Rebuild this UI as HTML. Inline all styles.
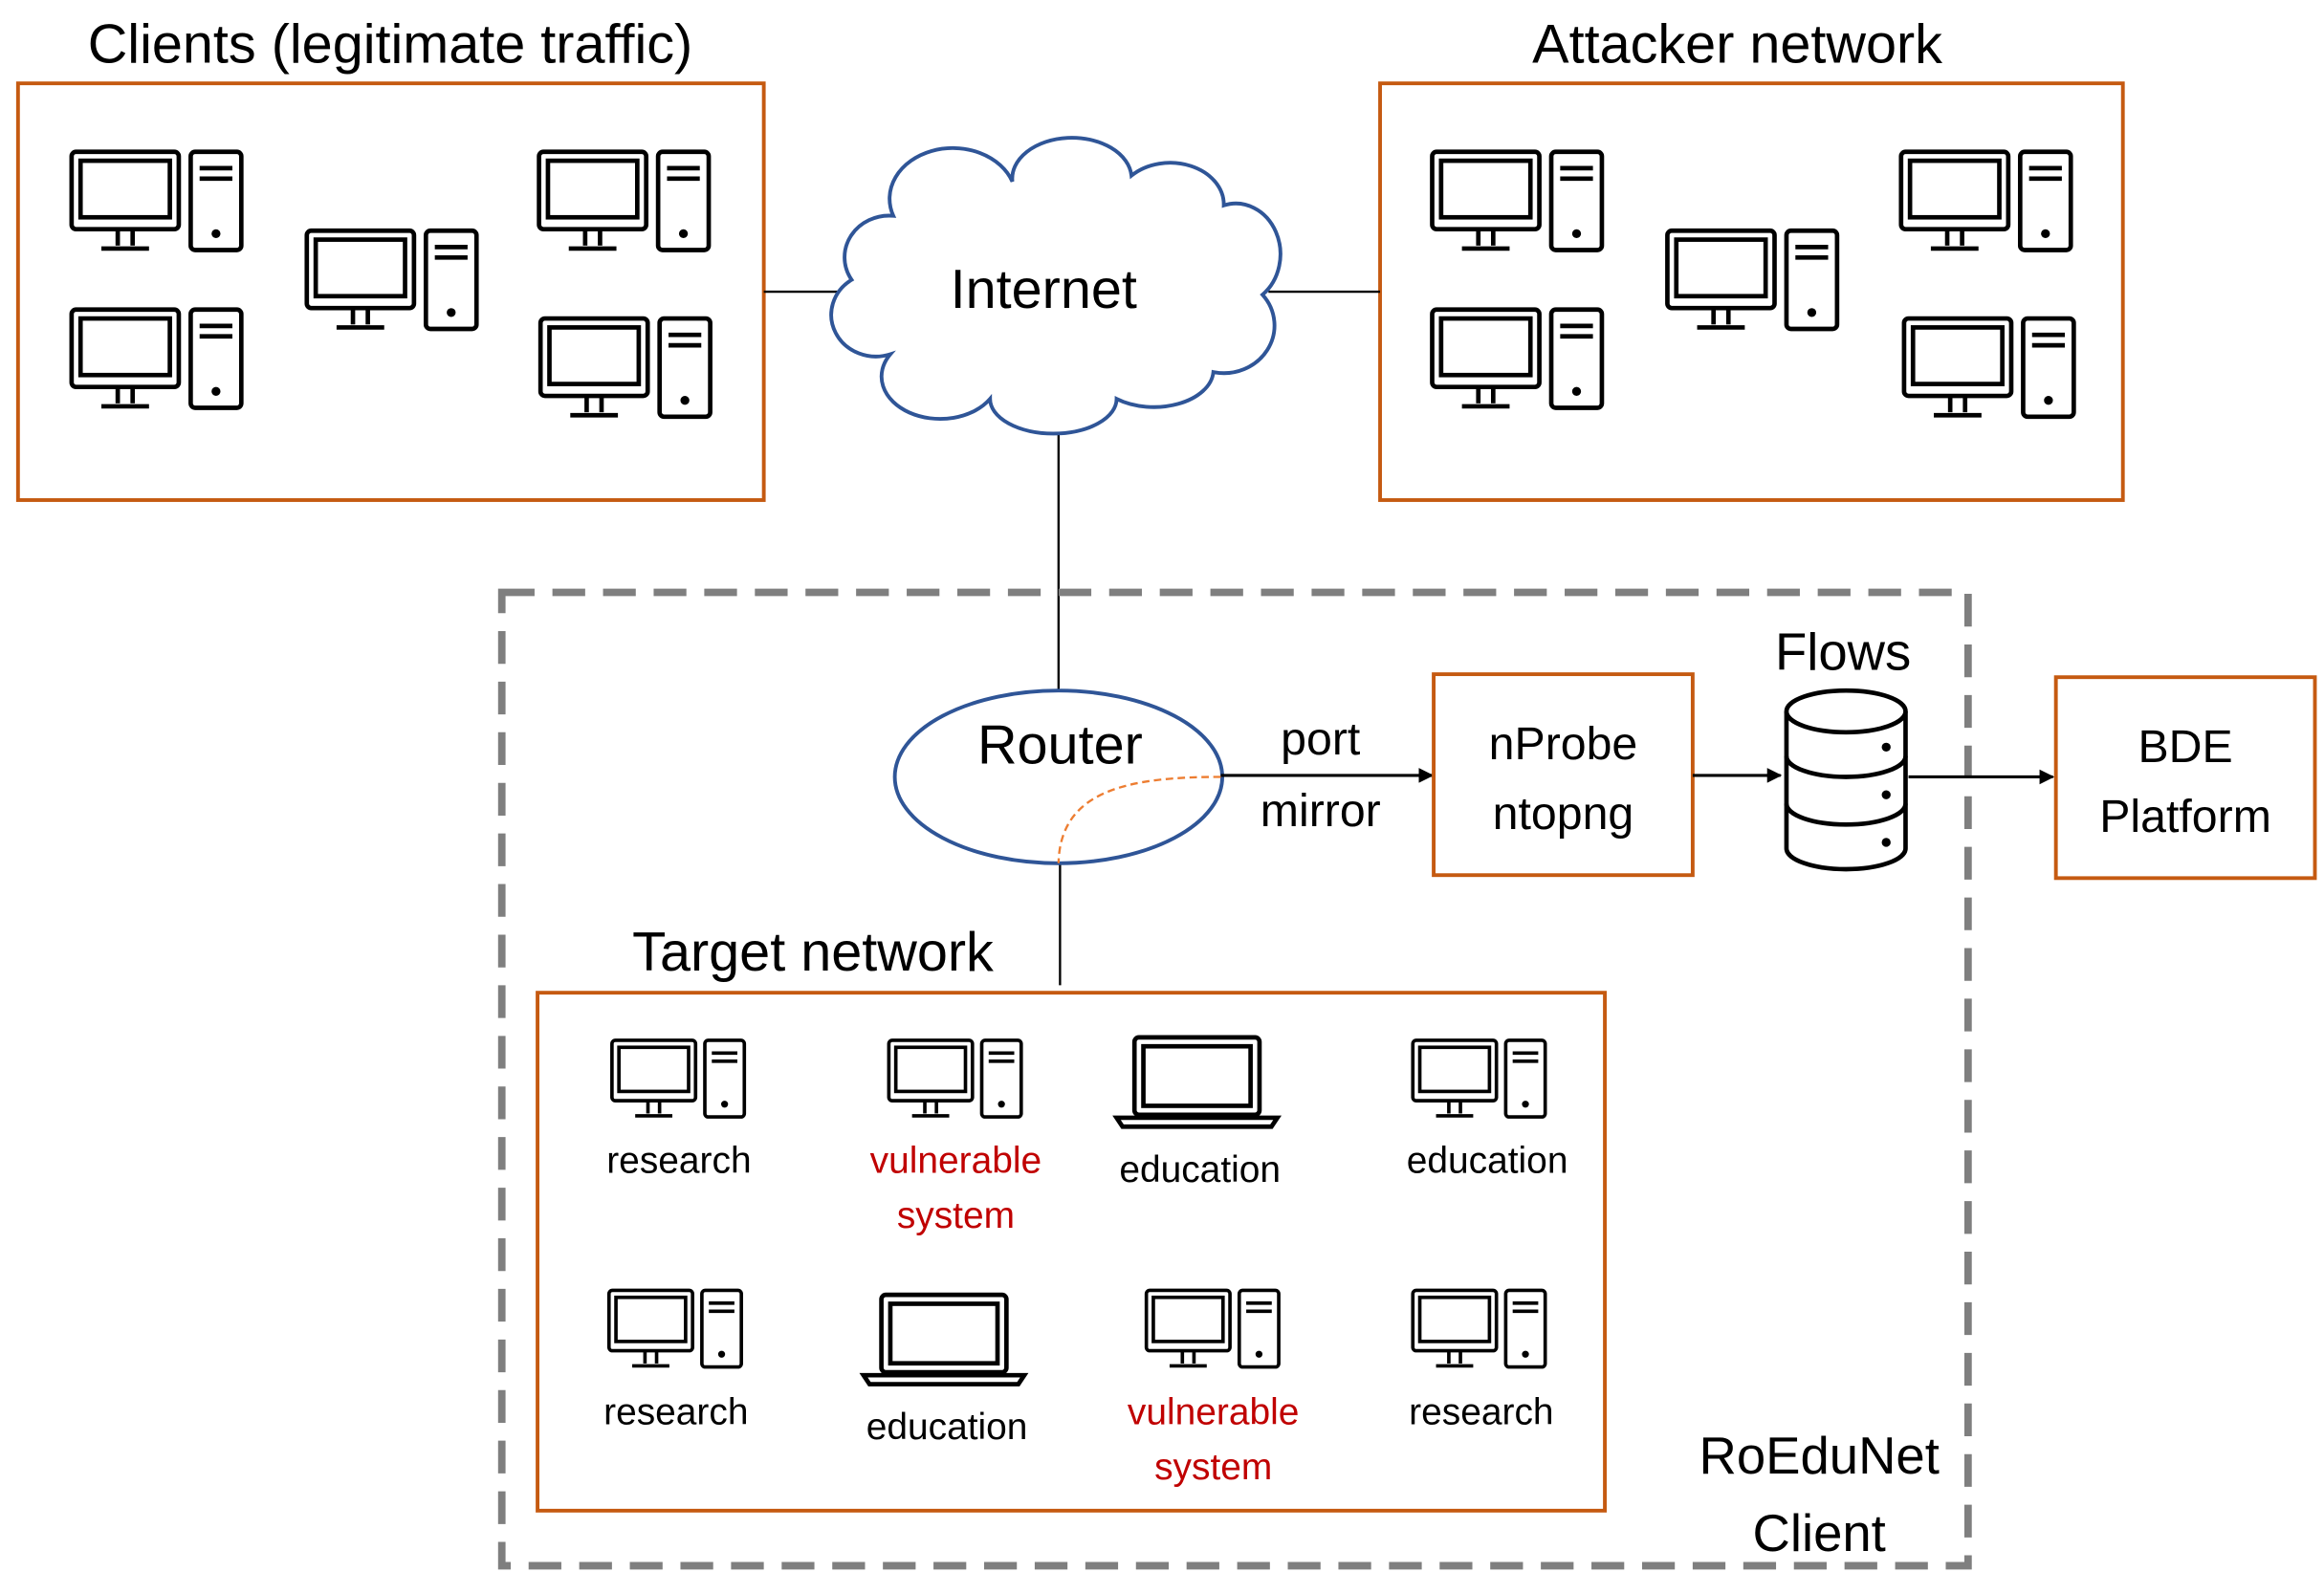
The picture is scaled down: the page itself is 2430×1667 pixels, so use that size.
<!DOCTYPE html>
<html><head><meta charset="utf-8"><style>
html,body{margin:0;padding:0;background:#fff;}
svg{display:block;}
text{font-family:"Liberation Sans",sans-serif;}
</style></head><body>
<svg width="2430" height="1667" viewBox="0 0 1561 1071" xmlns="http://www.w3.org/2000/svg">
<defs>
<g id="pc" fill="none" stroke="#000" stroke-width="3">
<rect x="0" y="0" width="72" height="52" rx="3" fill="#fff"/>
<rect x="6" y="6" width="60" height="38"/>
<line x1="31" y1="52" x2="31" y2="63"/><line x1="41" y1="52" x2="41" y2="63"/>
<line x1="20" y1="65" x2="52" y2="65"/>
<rect x="80" y="0" width="34" height="66" rx="3" fill="#fff"/>
<line x1="86" y1="11" x2="108" y2="11"/><line x1="86" y1="18" x2="108" y2="18"/>
<circle cx="97" cy="55" r="1.5" fill="#000"/>
</g>
<g id="lap" fill="none" stroke="#000" stroke-width="3">
<rect x="14" y="0" width="84" height="52" rx="3" fill="#fff"/>
<rect x="20" y="6" width="72" height="40"/>
<path d="M2,54 L110,54 L106,60 L6,60 Z"/>
</g>
<marker id="ar" markerWidth="10" markerHeight="10" refX="9" refY="5" orient="auto" markerUnits="userSpaceOnUse"><path d="M0,0 L10,5 L0,10 Z" fill="#000"/></marker>
</defs>
<rect width="1561" height="1071" fill="#fff"/>
<text x="262" y="42" font-size="37" text-anchor="middle">Clients (legitimate traffic)</text>
<text x="1167" y="42" font-size="37" text-anchor="middle">Attacker network</text>
<rect x="12" y="56" width="501" height="280" fill="none" stroke="#c55a11" stroke-width="2.5"/>
<rect x="927" y="56" width="499" height="280" fill="none" stroke="#c55a11" stroke-width="2.5"/>
<use href="#pc" x="48" y="102"/><use href="#pc" x="206" y="155"/><use href="#pc" x="362" y="102"/><use href="#pc" x="48" y="208"/><use href="#pc" x="363" y="214"/>
<use href="#pc" x="962" y="102"/><use href="#pc" x="1120" y="155"/><use href="#pc" x="1277" y="102"/><use href="#pc" x="962" y="208"/><use href="#pc" x="1279" y="214"/>
<line x1="513" y1="196" x2="570" y2="196" stroke="#000" stroke-width="1.5"/>
<line x1="852" y1="196" x2="927" y2="196" stroke="#000" stroke-width="1.5"/>
<line x1="711" y1="285" x2="711" y2="464" stroke="#000" stroke-width="1.5"/>
<line x1="712" y1="580" x2="712" y2="662" stroke="#000" stroke-width="1.5"/>
<path d="M600,145 A40 32 0 0 1 680,122 A38 26 0 0 1 760,118 A36 28 0 0 1 822,138 A30 34 0 0 1 848,198 A34 32 0 0 1 815,250 A40 25 0 0 1 750,268 A40 22 0 0 1 665,268 A36 26 0 0 1 598,238 A30 28 0 0 1 572,188 A30 28 0 0 1 600,145 Z" fill="#fff" stroke="#2f5597" stroke-width="2.5"/>
<text x="701" y="207" font-size="37" text-anchor="middle">Internet</text>
<rect x="337" y="398" width="985" height="654" fill="none" stroke="#7f7f7f" stroke-width="5" stroke-dasharray="22,12"/>
<ellipse cx="711" cy="522" rx="110" ry="58" fill="#fff" stroke="#2f5597" stroke-width="2.5"/>
<text x="712" y="513" font-size="37" text-anchor="middle">Router</text>
<path d="M820,522 C760,522 712,530 711,580" fill="none" stroke="#ed7d31" stroke-width="1.5" stroke-dasharray="5,3"/>
<line x1="820" y1="521" x2="962" y2="521" stroke="#000" stroke-width="2" marker-end="url(#ar)"/>
<text x="887" y="507" font-size="31" text-anchor="middle">port</text>
<text x="887" y="555" font-size="31" text-anchor="middle">mirror</text>
<rect x="963" y="453" width="174" height="135" fill="none" stroke="#c55a11" stroke-width="2.5"/>
<text x="1050" y="510" font-size="31" text-anchor="middle">nProbe</text>
<text x="1050" y="557" font-size="31" text-anchor="middle">ntopng</text>
<line x1="1137" y1="521" x2="1196" y2="521" stroke="#000" stroke-width="2" marker-end="url(#ar)"/>
<text x="1238" y="450" font-size="35" text-anchor="middle">Flows</text>
<g fill="#fff" stroke="#000" stroke-width="3">
<path d="M1200,478 L1200,570 A40 14 0 0 0 1280,570 L1280,478"/>
<ellipse cx="1240" cy="478" rx="40" ry="14"/>
<path d="M1200,508 A40 14 0 0 0 1280,508" fill="none"/>
<path d="M1200,540 A40 14 0 0 0 1280,540" fill="none"/>
</g>
<circle cx="1267" cy="502" r="3"/><circle cx="1267" cy="534" r="3"/><circle cx="1267" cy="566" r="3"/>
<line x1="1282" y1="522" x2="1379" y2="522" stroke="#000" stroke-width="2" marker-end="url(#ar)"/>
<rect x="1381" y="455" width="174" height="135" fill="none" stroke="#c55a11" stroke-width="2.5"/>
<text x="1468" y="512" font-size="31" text-anchor="middle">BDE</text>
<text x="1468" y="559" font-size="31" text-anchor="middle">Platform</text>
<text x="546" y="652" font-size="37" text-anchor="middle">Target network</text>
<rect x="361" y="667" width="717" height="348" fill="none" stroke="#c55a11" stroke-width="2.5"/>
<g transform="translate(411,699) scale(0.78)"><use href="#pc"/></g>
<g transform="translate(597,699) scale(0.78)"><use href="#pc"/></g>
<g transform="translate(949,699) scale(0.78)"><use href="#pc"/></g>
<g transform="translate(409,867) scale(0.78)"><use href="#pc"/></g>
<g transform="translate(770,867) scale(0.78)"><use href="#pc"/></g>
<g transform="translate(949,867) scale(0.78)"><use href="#pc"/></g>
<use href="#lap" x="748" y="697"/><use href="#lap" x="578" y="870"/>
<g font-size="25" text-anchor="middle">
<text x="456" y="788">research</text>
<text x="642" y="788" fill="#c00000">vulnerable</text>
<text x="642" y="825" fill="#c00000">system</text>
<text x="806" y="794">education</text>
<text x="999" y="788">education</text>
<text x="454" y="957">research</text>
<text x="636" y="967">education</text>
<text x="815" y="957" fill="#c00000">vulnerable</text>
<text x="815" y="994" fill="#c00000">system</text>
<text x="995" y="957">research</text>
</g>
<text x="1222" y="990" font-size="35" text-anchor="middle">RoEduNet</text>
<text x="1222" y="1042" font-size="35" text-anchor="middle">Client</text>
</svg>
</body></html>
